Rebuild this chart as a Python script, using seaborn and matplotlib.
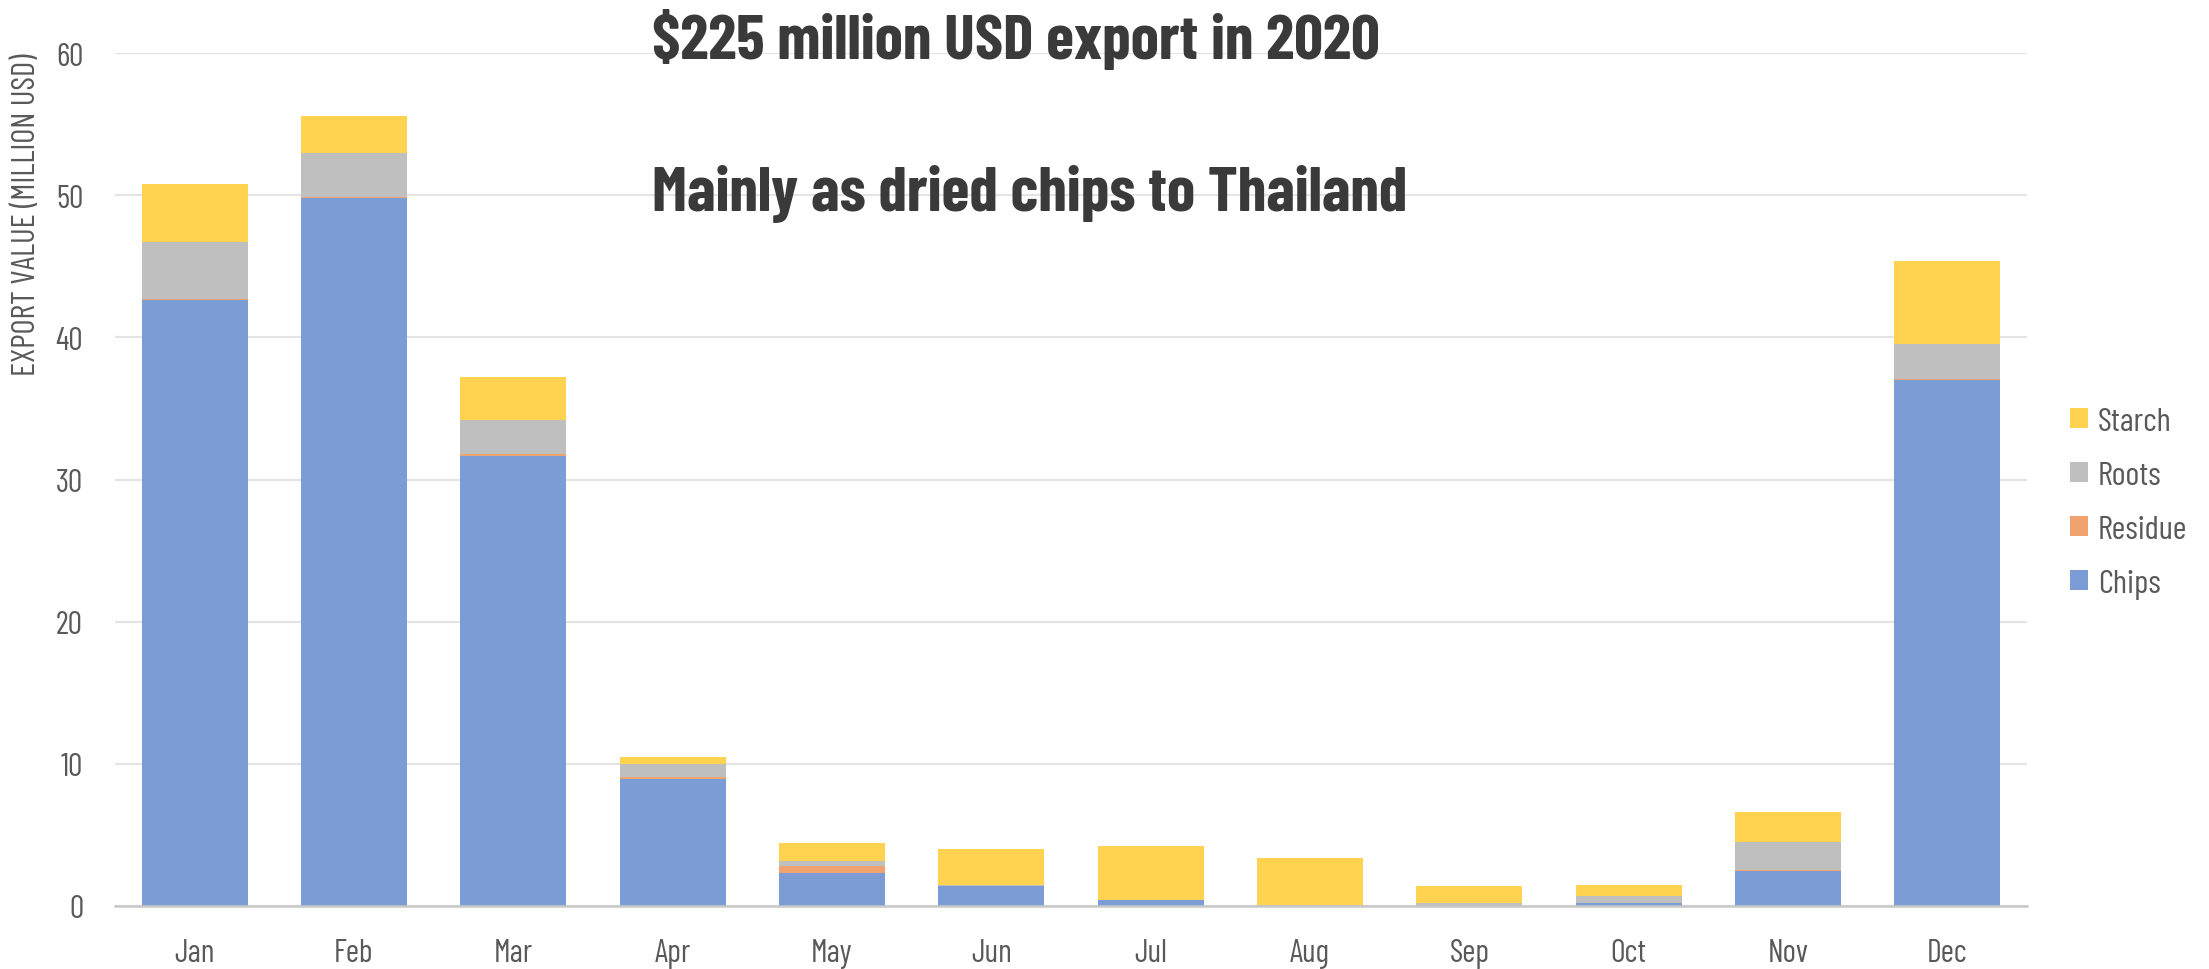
import matplotlib
matplotlib.use("Agg")
import matplotlib.pyplot as plt
from matplotlib.patches import Patch
import numpy as np
import pandas as pd
import seaborn as sns

# Monthly cassava export value, million USD
months = ["Jan", "Feb", "Mar", "Apr", "May", "Jun", "Jul", "Aug", "Sep", "Oct", "Nov", "Dec"]
chips = [42.6, 49.8, 31.65, 8.95, 2.34, 1.40, 0.40, 0.0, 0.02, 0.21, 2.48, 37.0]
residue = [0.1, 0.1, 0.15, 0.1, 0.47, 0.03, 0.02, 0.02, 0.0, 0.0, 0.02, 0.05]
roots = [4.0, 3.1, 2.4, 0.95, 0.37, 0.02, 0.02, 0.03, 0.21, 0.49, 2.02, 2.45]
starch = [4.1, 2.6, 3.0, 0.47, 1.25, 2.55, 3.78, 3.32, 1.2, 0.77, 2.08, 5.9]

series_names = ["Chips", "Residue", "Roots", "Starch"]
series_values = [chips, residue, roots, starch]
colors = {"Chips": "#7B9CD4", "Residue": "#F0A36E", "Roots": "#BFBFBF", "Starch": "#FFD34F"}

df = pd.DataFrame({"month": months})
running = np.zeros(len(months))
for name, vals in zip(series_names, series_values):
    running = running + np.asarray(vals, dtype=float)
    df[name + "_top"] = running

sns.set_theme(style="white")
FONT = ["Barlow Condensed", "Roboto Condensed", "IBM Plex Sans Condensed", "DejaVu Sans"]
plt.rcParams["font.family"] = FONT

fig = plt.figure(figsize=(22.09, 9.70), dpi=100)
ax = fig.add_axes([115 / 2209, 63 / 970, (2027 - 115) / 2209, (907 - 54) / 970])

# Stacked bars: draw cumulative tops from the highest layer down
for name in reversed(series_names):
    sns.barplot(data=df, x="month", y=name + "_top", color=colors[name],
                saturation=1, width=0.665, ax=ax, linewidth=0, zorder=3)

ax.set_ylim(0, 60)
ax.set_xlim(-0.5, len(months) - 0.5)
ax.set_yticks(range(0, 61, 10))
ax.yaxis.grid(True, color="#E4E4E4", linewidth=1.6, zorder=0)
ax.set_axisbelow(True)
for side in ["top", "right", "left"]:
    ax.spines[side].set_visible(False)
ax.spines["bottom"].set_color("#C8C8C8")
ax.spines["bottom"].set_linewidth(1.8)
ax.spines["bottom"].set_zorder(4)

ax.tick_params(axis="both", length=0, labelsize=23, labelcolor="#595959")
ax.tick_params(axis="y", pad=23)
ax.tick_params(axis="x", pad=23)
ax.set_xlabel("")
ax.set_ylabel("EXPORT VALUE (MILLION USD)", fontsize=23.5, color="#595959", loc="top", labelpad=10)

fig.text(652 / 2209, 1 - 59 / 970, "$225 million USD export in 2020", fontsize=46,
         fontweight="bold", color="#3A3A3A", ha="left", va="baseline")
fig.text(652 / 2209, 1 - 211 / 970, "Mainly as dried chips to Thailand", fontsize=46,
         fontweight="bold", color="#3A3A3A", ha="left", va="baseline")

handles = [Patch(facecolor=colors[n], edgecolor="none", label=n) for n in reversed(series_names)]
leg = fig.legend(handles=handles, loc="center left", bbox_to_anchor=(2070 / 2209, 1 - 504 / 970),
                 frameon=False, fontsize=24, handlelength=0.54, handleheight=0.54,
                 handletextpad=0.3, labelspacing=0.72, borderpad=0, borderaxespad=0)
for t in leg.get_texts():
    t.set_color("#595959")

fig.savefig("out.png", dpi=100, facecolor="white")
